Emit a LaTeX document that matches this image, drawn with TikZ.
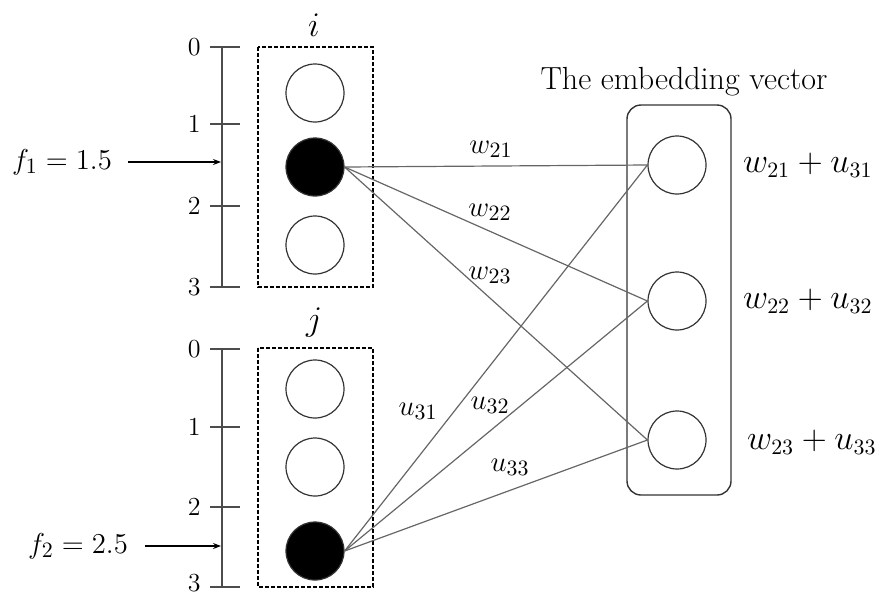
\documentclass[tikz,border=0pt]{standalone}
\usetikzlibrary{arrows.meta}
\begin{document}
\begin{tikzpicture}[x=0.5pt,y=-0.5pt,
  unit/.style={circle,draw=black!80,line width=0.6pt,minimum size=29pt,inner sep=0pt},
  hot/.style={unit,fill=black},
  grp/.style={draw,dashed,line width=1pt,dash pattern=on 2pt off 1pt},
  conn/.style={draw=black!60,line width=0.6pt},
  ticklbl/.style={font=\fontsize{13}{15}\selectfont,anchor=east,inner sep=1pt},
  elbl/.style={font=\fontsize{15}{17}\selectfont,inner sep=0pt},
  big/.style={font=\fontsize{15}{18}\selectfont},
  bigger/.style={font=\fontsize{16}{19}\selectfont},
  feat/.style={-{Stealth[length=4pt,width=3pt]},line width=0.6pt},
  axis/.style={draw=black!70,line width=0.7pt}]
\useasboundingbox (0,0) rectangle (876,595);
% ---- top scale ----
\draw[axis] (222,47) -- (222,287);
\foreach \y/\t [count=\k] in {47/0,124/1,206/2,287/3}{
  \draw[axis] (210,\y) -- (240,\y);
  \node[ticklbl] (ta\k) at (203,\y) {\t};
}
\coordinate (pa) at (221,162);
\node[big] (f1) at (62,162) {$f_1 = 1.5$};
\draw[feat] (128,162) -- (pa);
% ---- bottom scale ----
\draw[axis] (222,349) -- (222,587);
\foreach \y/\t [count=\k] in {349/0,427/1,507/2,583/3}{
  \node[ticklbl] (tb\k) at (203,\y) {\t};
}
\foreach \y in {349,427,507,587}{
  \draw[axis] (210,\y) -- (240,\y);
}
\coordinate (pb) at (221,546);
\node[big] (f2) at (78,546) {$f_2 = 2.5$};
\draw[feat] (145,546) -- (pb);
% ---- group boxes ----
\draw[grp] (258,47) rectangle (373,287);
\draw[grp] (258,348) rectangle (373,587);
\node[bigger] (li) at (314,25) {$i$};
\node[bigger] (lj) at (314,323) {$j$};
\node[unit] (i1) at (315,93) {};
\node[hot]  (i2) at (315,167) {};
\node[unit] (i3) at (315,245) {};
\node[unit] (j1) at (315,389) {};
\node[unit] (j2) at (315,467) {};
\node[hot]  (j3) at (315,551) {};
% ---- embedding ----
\draw[line width=0.7pt,draw=black!80,rounded corners=7pt] (627,105) rectangle (731,495);
\node[bigger] (title) at (684,82) {The embedding vector};
\node[unit] (e1) at (677,165) {};
\node[unit] (e2) at (677,301) {};
\node[unit] (e3) at (677,440) {};
\node[bigger,anchor=west] (s1) at (736,165) {$w_{21} + u_{31}$};
\node[bigger,anchor=west] (s2) at (736,301) {$w_{22} + u_{32}$};
\node[bigger,anchor=west] (s3) at (740,442) {$w_{23} + u_{33}$};
% ---- connections ----
\draw[conn] (i2.east) -- (e1.west);
\draw[conn] (i2.east) -- (e2.west);
\draw[conn] (i2.east) -- (e3.west);
\draw[conn] (j3.east) -- (e1.west);
\draw[conn] (j3.east) -- (e2.west);
\draw[conn] (j3.east) -- (e3.west);
\node[elbl] (lw1) at (491,149) {$w_{21}$};
\node[elbl] (lw2) at (490,212) {$w_{22}$};
\node[elbl] (lw3) at (490,275) {$w_{23}$};
\node[elbl] (lu1) at (418,411) {$u_{31}$};
\node[elbl] (lu2) at (490,405) {$u_{32}$};
\node[elbl] (lu3) at (510,467) {$u_{33}$};
\end{tikzpicture}
\end{document}
